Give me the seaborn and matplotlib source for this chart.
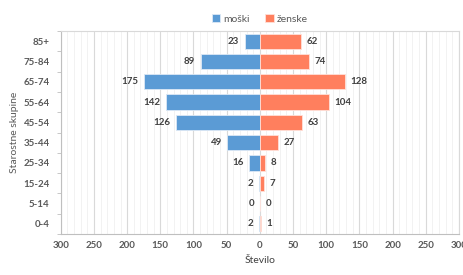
import matplotlib
matplotlib.use("Agg")
import matplotlib.pyplot as plt
import seaborn as sns
import pandas as pd
import numpy as np
from matplotlib.ticker import MultipleLocator, FixedLocator

sns.set_theme(style="white")
plt.rcParams['font.family'] = ['Lato', 'DejaVu Sans']

categories = ["85+", "75-84", "65-74", "55-64", "45-54", "35-44", "25-34", "15-24", "5-14", "0-4"]
moski = [23, 89, 175, 142, 126, 49, 16, 2, 0, 2]
zenske = [62, 74, 128, 104, 63, 27, 8, 7, 0, 1]
xticks = [-300, -250, -200, -150, -100, -50, 0, 50, 100, 150, 200, 250, 300]

blue = "#5B9BD5"
orange = "#FF7F5E"
txt = "#404040"
tickc = "#595959"

df_m = pd.DataFrame({"cat": categories, "val": [-v for v in moski]})
df_z = pd.DataFrame({"cat": categories, "val": zenske})

fig = plt.figure(figsize=(4.64, 2.75), dpi=100)
ax = fig.add_axes([0.131, 0.149, 0.858, 0.738])

sns.barplot(data=df_m, x="val", y="cat", order=categories, color=blue, width=0.75,
            edgecolor="#DCE8F5", linewidth=0.6, ax=ax, label="moški", saturation=1)
sns.barplot(data=df_z, x="val", y="cat", order=categories, color=orange, width=0.75,
            edgecolor="#FFE0D8", linewidth=0.6, ax=ax, label="ženske", saturation=1)

for i, (m, z) in enumerate(zip(moski, zenske)):
    ax.annotate(str(m), xy=(-m, i), xytext=(-4, 0), textcoords="offset points",
                ha="right", va="center", fontsize=7, fontweight="bold", color=txt)
    ax.annotate(str(z), xy=(z, i), xytext=(4, 0), textcoords="offset points",
                ha="left", va="center", fontsize=7, fontweight="bold", color=txt)

ax.set_xlim(-300, 300)
ax.set_ylim(len(categories) - 0.5, -0.5)
ax.xaxis.set_major_locator(FixedLocator(xticks))
ax.set_xticklabels([str(abs(t)) for t in xticks])
ax.xaxis.set_minor_locator(MultipleLocator(10))
ax.grid(True, axis="x", which="major", color="#D9D9D9", linewidth=0.8)
ax.grid(True, axis="x", which="minor", color="#F0F0F0", linewidth=0.6)
ax.set_axisbelow(True)

ax.yaxis.set_minor_locator(FixedLocator(np.arange(-0.5, len(categories), 1)))
ax.tick_params(axis="y", which="minor", length=3, color="#BFBFBF", width=0.6, left=True)
ax.tick_params(axis="y", which="major", length=0, pad=8)
ax.tick_params(axis="x", which="both", length=0, pad=5)
for lab in ax.get_xticklabels() + ax.get_yticklabels():
    lab.set_fontsize(7)
    lab.set_fontweight("bold")
    lab.set_color(tickc)

for s in ["top", "right"]:
    ax.spines[s].set_color("#D9D9D9")
    ax.spines[s].set_linewidth(0.8)
for s in ["left", "bottom"]:
    ax.spines[s].set_color("#BFBFBF")
    ax.spines[s].set_linewidth(0.8)

ax.set_xlabel("Število", fontsize=7.5, color=txt, labelpad=4)
ax.set_ylabel("Starostne skupine", fontsize=7.5, color=tickc, labelpad=3)

leg = ax.legend(loc="lower center", bbox_to_anchor=(0.5, 1.0), ncol=2, frameon=False,
                fontsize=7.5, handlelength=0.8, handleheight=0.8, handletextpad=0.3,
                columnspacing=1.5, borderaxespad=0.3)
for t in leg.get_texts():
    t.set_color(tickc)

fig.savefig("out.png", dpi=100)
